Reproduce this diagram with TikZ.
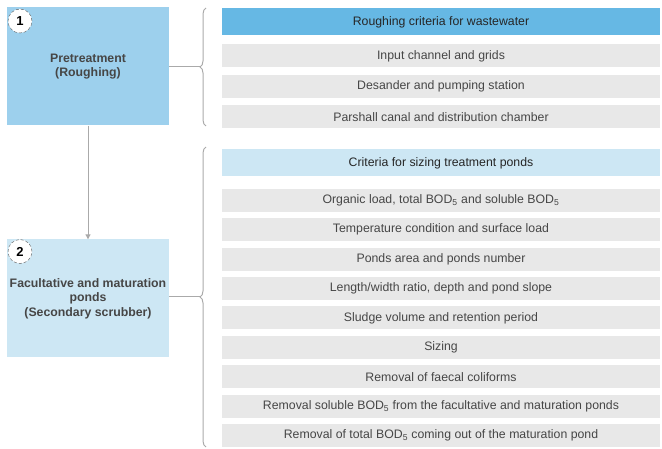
\documentclass[tikz,border=0pt]{standalone}
\usepackage{fontspec}
\setmainfont{Liberation Sans}
\usetikzlibrary{arrows.meta,positioning,decorations.pathreplacing}
\definecolor{stageA}{RGB}{157,208,237}
\definecolor{stageB}{RGB}{205,231,244}
\definecolor{headA}{RGB}{102,184,228}
\definecolor{rowgray}{RGB}{232,232,232}
\definecolor{linegray}{RGB}{170,170,170}
\definecolor{txtgray}{RGB}{70,70,70}
\tikzset{
  stage/.style={minimum width=162pt,minimum height=118pt,align=center,inner sep=2pt,font=\fontsize{12.3}{14.5}\selectfont\bfseries,text=txtgray},
  badge/.style={circle,draw=black!65,densely dashed,fill=white,minimum size=24pt,inner sep=0pt,font=\fontsize{13}{14}\selectfont\bfseries},
  head/.style={minimum width=438pt,minimum height=27pt,inner sep=0pt,font=\fontsize{12.3}{14}\selectfont,text=black!85},
  crit/.style={fill=rowgray,minimum width=438pt,minimum height=23pt,inner sep=0pt,font=\fontsize{12.3}{14}\selectfont,text=txtgray},
  link/.style={draw=linegray,line width=1pt},
  arr/.style={link,-{Triangle[length=5pt,width=5pt]}},
  brc/.style={link,decorate,decoration={brace,amplitude=6pt}}
}

\begin{document}
\begin{tikzpicture}[x=1pt,y=-1pt,node distance=7pt]
\useasboundingbox (0,0) rectangle (662,449);
% stages
\node[stage,fill=stageA] (pre) at (88,66.5) {Pretreatment\\(Roughing)};
\node[stage,fill=stageB] (pond) at (88,298.5) {Facultative and maturation\\ponds\\(Secondary scrubber)};
\node[badge] (b1) at (20,21) {1};
\node[badge] (b2) at (20,251.5) {2};
% roughing criteria
\node[head,fill=headA] (h1) at (441,22) {Roughing criteria for wastewater};
\node[crit,below=8.5pt of h1] (r1) {Input channel and grids};
\node[crit,below=of r1] (r2) {Desander and pumping station};
\node[crit,below=of r2] (r3) {Parshall canal and distribution chamber};
% pond criteria
\node[head,fill=stageB] (h2) at (441,163) {Criteria for sizing treatment ponds};
\node[crit,below=12pt of h2] (p1) {Organic load, total BOD\textsubscript{5} and soluble BOD\textsubscript{5}};
\node[crit,below=6pt of p1] (p2) {Temperature condition and surface load};
\node[crit,below=6pt of p2] (p3) {Ponds area and ponds number};
\node[crit,below=6pt of p3] (p4) {Length/width ratio, depth and pond slope};
\node[crit,below=6pt of p4] (p5) {Sludge volume and retention period};
\node[crit,below=6pt of p5] (p6) {Sizing};
\node[crit,below=6pt of p6] (p7) {Removal of faecal coliforms};
\node[crit,below=6pt of p7] (p8) {Removal soluble BOD\textsubscript{5} from the facultative and maturation ponds};
\node[crit,below=6pt of p8] (p9) {Removal of total BOD\textsubscript{5} coming out of the maturation pond};
% braces
\coordinate (t1) at (206,8);
\coordinate (u1) at (206,126);
\coordinate (t2) at (206,147);
\coordinate (u2) at (206,447);
\draw[brc] (u1) -- (t1);
\draw[brc] (u2) -- (t2);
\coordinate (k1) at (200,67);
\coordinate (k2) at (200,297);
\draw[link] (pre.east |- k1) -- (k1);
\draw[link] (pond.east |- k2) -- (k2);
\draw[arr] (pre) -- (pond);
\end{tikzpicture}
\end{document}
